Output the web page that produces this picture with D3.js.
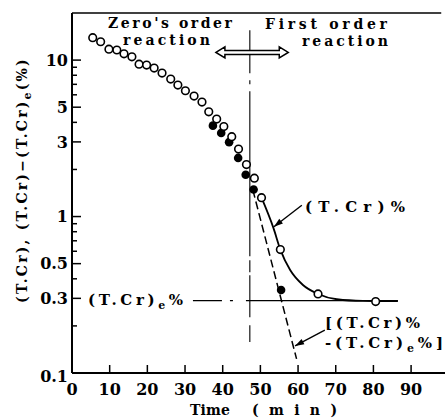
<!DOCTYPE html>
<html>
<head>
<meta charset="utf-8">
<script src="https://cdn.jsdelivr.net/npm/d3@7"></script>
<style>
  body { margin: 0; background: #fff; }
  text { font-family: "DejaVu Serif", serif; font-weight: bold; fill: #000; }
</style>
</head>
<body>
<div id="chart"></div>
<script>
// Open circles: (T.Cr)%
const openTime  = [5.5, 7.6, 9.8, 11.9, 13.8, 15.9, 17.8, 19.8, 21.8, 23.9, 26.2, 28.1, 30.1, 32.4,
                   34.5, 36.3, 38.4, 40.3, 42.4, 44.2, 46.3, 48.4, 50.3, 55.3, 65.3, 80.6];
const openValue = [13.9, 13.1, 11.75, 11.6, 10.97, 10.5, 9.42, 9.29, 8.89, 8.26, 7.56, 6.92, 6.37, 5.89,
                   5.39, 4.67, 4.20, 3.76, 3.24, 2.70, 2.15, 1.76, 1.32, 0.615, 0.320, 0.286];

// Filled circles: (T.Cr)% - (T.Cr)e%
const filledTime  = [37.4, 39.6, 41.7, 44.1, 46.1, 48.2, 55.5];
const filledValue = [3.81, 3.42, 2.99, 2.37, 1.85, 1.49, 0.339];

// Solid curve through the first order part
const curveTime  = [50.3, 53.5, 55.3, 57.9, 61.3, 65.3, 70.3, 77.2, 86.5];
const curveValue = [1.32, 0.84, 0.615, 0.455, 0.365, 0.320, 0.296, 0.289, 0.288];

// Dashed straight line (first order)
const dashTime  = [48.0, 59.6];
const dashValue = [1.48, 0.123];

// Equilibrium level and reaction boundary
const eqValue = 0.29;
const eqTime = [32.1, 86.5];
const boundaryTime = 47.2;
const boundaryValue = [15.5, 0.158];

// Ticks
const xTicks = [0, 10, 20, 30, 40, 50, 60, 70, 80, 90];
const yLabelTicks = [0.1, 0.3, 0.5, 1, 3, 5, 10];
const yMinorTicks = [0.2, 0.4, 0.6, 0.7, 0.8, 0.9, 2, 4, 6, 7, 8, 9];

const width = 445, height = 419;

const svg = d3.select("#chart").append("svg")
    .attr("width", width)
    .attr("height", height);

const x = d3.scaleLinear().domain([0, 99]).range([72, 445]);
const y = d3.scaleLog().domain([0.1, 20]).range([373, 13]);

// Frame: left axis, bottom axis, top line
svg.append("line").attr("x1", x(0)).attr("x2", x(0)).attr("y1", y(20)).attr("y2", y(0.1))
   .attr("stroke", "black").attr("stroke-width", 2);
svg.append("line").attr("x1", x(0)).attr("x2", x(99)).attr("y1", y(0.1)).attr("y2", y(0.1))
   .attr("stroke", "black").attr("stroke-width", 2);
svg.append("line").attr("x1", x(0)).attr("x2", x(98)).attr("y1", y(20)).attr("y2", y(20))
   .attr("stroke", "black").attr("stroke-width", 1.6);

// Y ticks (inward)
yLabelTicks.concat(yMinorTicks).forEach(v => {
    const major = yLabelTicks.includes(v);
    svg.append("line")
       .attr("x1", x(0)).attr("x2", x(0) + (major ? 9 : 5))
       .attr("y1", y(v)).attr("y2", y(v))
       .attr("stroke", "black").attr("stroke-width", 1.5);
});
yLabelTicks.forEach(v => {
    svg.append("text")
       .attr("x", x(0) - 4)
       .attr("y", y(v) + (v === 0.1 ? 3 : 0))
       .attr("dy", "0.36em")
       .attr("text-anchor", "end")
       .attr("font-size", 16)
       .text(String(v));
});

// X ticks (inward)
xTicks.forEach(t => {
    if (t > 0) {
        svg.append("line")
           .attr("x1", x(t)).attr("x2", x(t))
           .attr("y1", y(0.1)).attr("y2", y(0.1) - 8)
           .attr("stroke", "black").attr("stroke-width", 1.5);
    }
    svg.append("text")
       .attr("x", x(t))
       .attr("y", 395)
       .attr("text-anchor", "middle")
       .attr("font-size", 16)
       .text(String(t));
});

// Axis titles
svg.append("text").attr("x", 190).attr("y", 415).attr("font-size", 14)
   .attr("textLength", 40).attr("lengthAdjust", "spacing").text("Time");
svg.append("text").attr("x", 252).attr("y", 415).attr("font-size", 14)
   .attr("textLength", 85).attr("lengthAdjust", "spacing").text("(min)");

const yTitle = svg.append("text")
   .attr("transform", "translate(27,180) rotate(-90)")
   .attr("text-anchor", "middle")
   .attr("font-size", 14)
   .attr("letter-spacing", 2.2);
yTitle.append("tspan").text("(T.Cr), (T.Cr)\u2212(T.Cr)");
yTitle.append("tspan").attr("font-size", 11).attr("dy", 4).text("e");
yTitle.append("tspan").attr("dy", -4).text("(%)");

// Reaction boundary (dash-dot vertical)
svg.append("line")
   .attr("x1", x(boundaryTime)).attr("x2", x(boundaryTime))
   .attr("y1", y(boundaryValue[0])).attr("y2", y(boundaryValue[1]))
   .attr("stroke", "black").attr("stroke-width", 1.1)
   .attr("stroke-dasharray", "43,7,4,7,165,4,12,3,42,8,30");

// Equilibrium level line
svg.append("line")
   .attr("x1", x(eqTime[0])).attr("x2", x(eqTime[1]))
   .attr("y1", y(eqValue)).attr("y2", y(eqValue))
   .attr("stroke", "black").attr("stroke-width", 1.3)
   .attr("stroke-dasharray", "29,8,3,13,300");

// Solid curve
const curveData = curveTime.map((t, i) => ({ t: t, v: curveValue[i] }));
const line = d3.line()
   .x(d => x(d.t))
   .y(d => y(d.v))
   .curve(d3.curveMonotoneX);
svg.append("path")
   .datum(curveData)
   .attr("d", line)
   .attr("fill", "none")
   .attr("stroke", "black")
   .attr("stroke-width", 1.8);

// Dashed straight line
svg.append("path")
   .datum(dashTime.map((t, i) => ({ t: t, v: dashValue[i] })))
   .attr("d", d3.line().x(d => x(d.t)).y(d => y(d.v)))
   .attr("fill", "none")
   .attr("stroke", "black")
   .attr("stroke-width", 1.5)
   .attr("stroke-dasharray", "8,4");

// Points
svg.selectAll(".filled")
   .data(filledTime.map((t, i) => ({ t: t, v: filledValue[i] })))
   .enter().append("circle")
   .attr("class", "filled")
   .attr("cx", d => x(d.t)).attr("cy", d => y(d.v))
   .attr("r", 4.3)
   .attr("fill", "black");

svg.selectAll(".open")
   .data(openTime.map((t, i) => ({ t: t, v: openValue[i] })))
   .enter().append("circle")
   .attr("class", "open")
   .attr("cx", d => x(d.t)).attr("cy", d => y(d.v))
   .attr("r", 3.8)
   .attr("fill", "white")
   .attr("stroke", "black")
   .attr("stroke-width", 1.6);

// Arrow helper (filled head at end point)
function arrow(t1, v1, t2, v2) {
    const x1 = x(t1), y1 = y(v1), x2 = x(t2), y2 = y(v2);
    svg.append("line").attr("x1", x1).attr("y1", y1).attr("x2", x2).attr("y2", y2)
       .attr("stroke", "black").attr("stroke-width", 1.4);
    const a = Math.atan2(y2 - y1, x2 - x1), L = 9, W = 3;
    const bx = x2 - L * Math.cos(a), by = y2 - L * Math.sin(a);
    svg.append("path")
       .attr("d", `M${x2},${y2}L${bx - W * Math.sin(a)},${by + W * Math.cos(a)}L${bx + W * Math.sin(a)},${by - W * Math.cos(a)}Z`)
       .attr("fill", "black");
}
arrow(61.0, 1.18, 53.6, 0.861);
arrow(67.1, 0.188, 59.2, 0.149);

// Hollow double arrow
(function () {
    const xa = x(38.2), xb = x(57.4), yc = y(11.2);
    const s = 2, h = 5.5, L = 9;
    const d = `M${xa},${yc} L${xa + L},${yc - h} L${xa + L},${yc - s} L${xb - L},${yc - s} L${xb - L},${yc - h}
               L${xb},${yc} L${xb - L},${yc + h} L${xb - L},${yc + s} L${xa + L},${yc + s} L${xa + L},${yc + h} Z`;
    svg.append("path").attr("d", d)
       .attr("fill", "white").attr("stroke", "black").attr("stroke-width", 1.5);
})();

// Annotations
function label(txt, px, py, len, size) {
    svg.append("text").attr("x", px).attr("y", py).attr("font-size", size || 14)
       .attr("textLength", len).attr("lengthAdjust", "spacing").text(txt);
}
label("Zero's order", 108, 28, 124);
label("reaction", 123, 45, 87);
label("First order", 265, 29, 122);
label("reaction", 302, 46, 86);

function subLabel(parts, px, py, len) {
    const t = svg.append("text").attr("x", px).attr("y", py).attr("font-size", 15)
       .attr("textLength", len).attr("lengthAdjust", "spacing");
    parts.forEach(p => {
        const s = t.append("tspan").text(p.s);
        if (p.sub) s.attr("font-size", 11).attr("dy", 4);
        if (p.up) s.attr("dy", -4);
    });
}
subLabel([{ s: "(T.Cr)%" }], 305, 212, 100);
subLabel([{ s: "(T.Cr)" }, { s: "e", sub: true }, { s: "%", up: true }], 88, 305, 95);
subLabel([{ s: "[(T.Cr)%" }], 325, 328, 95);
subLabel([{ s: "-(T.Cr)" }, { s: "e", sub: true }, { s: "%]", up: true }], 325, 348, 118);
</script>
</body>
</html>
